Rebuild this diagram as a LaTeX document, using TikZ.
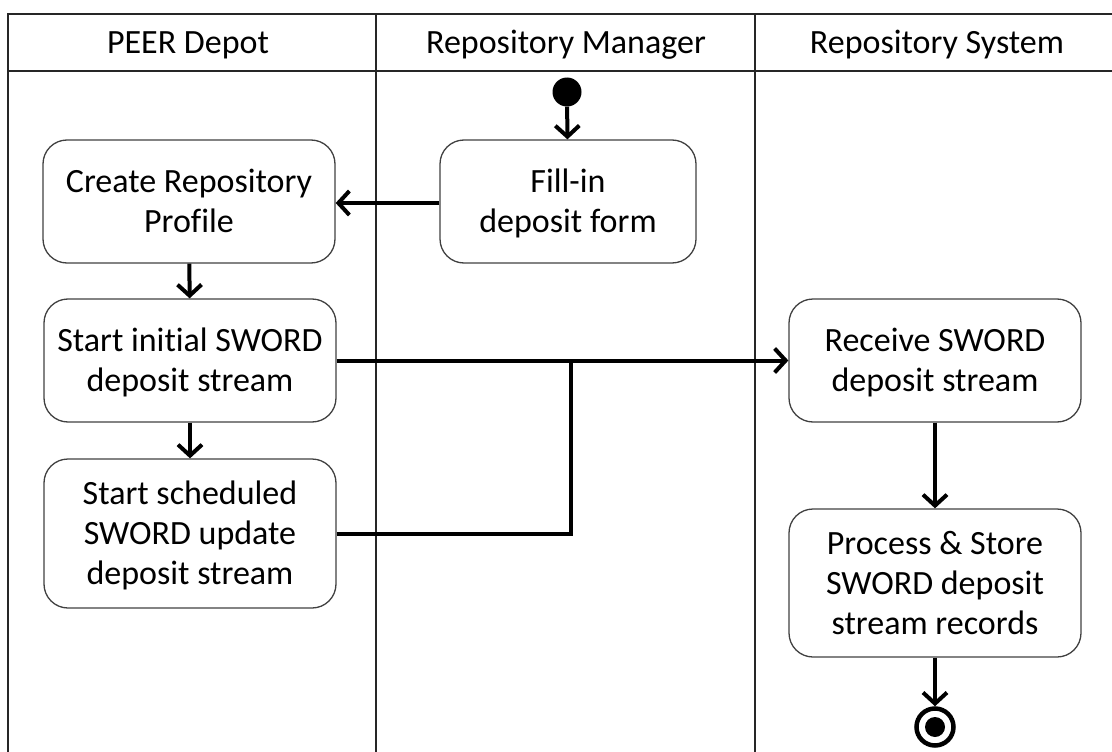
\documentclass[tikz,border=0pt]{standalone}
\usepackage{fontspec}
\setmainfont[Ligatures=NoCommon]{Carlito}
\usetikzlibrary{arrows.meta}
\newcommand\mystr{\rule[-9pt]{0pt}{40pt}}
\begin{document}
\begin{tikzpicture}[x=1pt,y=-1pt,
  lane/.style={draw=black!85,line width=1.6pt},
  act/.style={draw=black!75,line width=1.3pt,rounded corners=24pt,minimum width=292pt,
    align=center,font=\fontsize{34}{40}\selectfont,inner sep=0pt},
  hdr/.style={font=\fontsize{34}{40}\selectfont},
  flow/.style={line width=4pt,-{Straight Barb[length=11pt,width=24pt,line width=4pt]}},
  seg/.style={line width=4pt}]
\useasboundingbox (0,0) rectangle (1112,752);
% swimlanes
\draw[lane] (1112,14) -- (8,14) -- (8,752);
\draw[lane] (8,71) -- (1112,71);
\draw[lane] (376,14) -- (376,752);
\draw[lane] (755,14) -- (755,752);
\node[hdr] (h1) at (188,45) {PEER Depot};
\node[hdr] (h2) at (566,45) {Repository Manager};
\node[hdr] (h3) at (937,45) {Repository System};
% activities
\node[act,minimum height=123pt] (create) at (189,201.5) {\mystr Create Repository\\\mystr Profile};
\node[act,minimum width=256pt,minimum height=123pt] (fill) at (568,201.5) {\mystr Fill-in\\\mystr deposit form};
\node[act,minimum height=123pt] (init) at (190,360.5) {\mystr Start initial SWORD\\\mystr deposit stream};
\node[act,minimum height=149pt] (sched) at (190,533.5) {\mystr Start scheduled\\\mystr SWORD update\\\mystr deposit stream};
\node[act,minimum height=148pt] (proc) at (935,583) {\mystr Process \& Store\\\mystr SWORD deposit\\\mystr stream records};
\node[act,minimum height=123pt] (recv) at (935,360.5) {\mystr Receive SWORD\\\mystr deposit stream};
% start / end
\node[circle,fill=black,minimum size=29pt,inner sep=0pt] (start) at (567,92) {};
\node[circle,draw=black,line width=4.5pt,minimum size=37pt,inner sep=0pt] (end) at (935,727) {};
\node[circle,fill=black,minimum size=20pt,inner sep=0pt] (endin) at (end.center) {};
% flows
\draw[flow] (start) -- (fill);
\draw[flow] (fill.west |- 0,203) -- (create.east |- 0,203);
\draw[flow] (create) -- (init);
\draw[flow] (init) -- (sched);
\coordinate (j) at (571,360.5);
\draw[flow] (init.east) -- (recv.west);
\draw[seg] (sched.east) -- (sched.east -| j) -- (j);
\draw[flow] (recv) -- (proc);
\draw[flow] (proc) -- (end);
\end{tikzpicture}
\end{document}
